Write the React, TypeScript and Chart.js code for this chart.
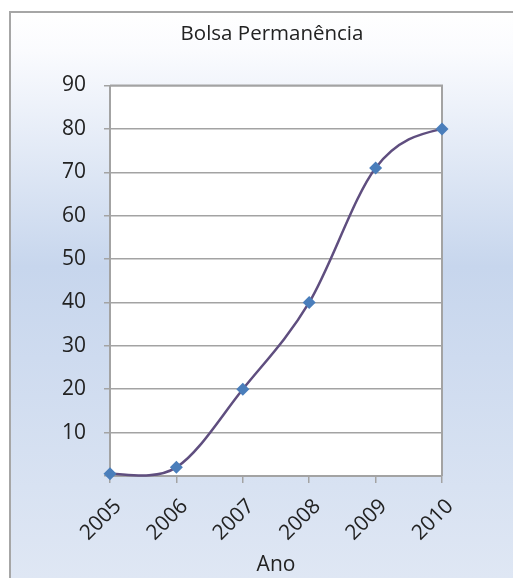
import React, { useEffect, useRef } from "react";
import { Chart, registerables } from "chart.js";

Chart.register(...registerables);

const years = ["2005", "2006", "2007", "2008", "2009", "2010"];
const bolsaValues = [0.5, 2, 20, 40, 71, 80];
const yMin = 0;
const yMax = 90;
const yStep = 10;

const FONT = "'Open Sans', 'Noto Sans', sans-serif";
const TEXT = "#222222";
const GRID = "#a3a3a3";
const SMOOTH_K = 1 / 6;

export default function App() {
  const ref = useRef<HTMLCanvasElement>(null);

  useEffect(() => {
    const canvas = ref.current;
    if (!canvas) return;

    const bgPlugin = {
      id: "bgPlugin",
      beforeDraw(chart: any) {
        const { ctx, chartArea } = chart;
        const W = chart.width;
        const H = chart.height;
        ctx.save();
        ctx.fillStyle = "#ffffff";
        ctx.fillRect(0, 0, W, H);
        const g = ctx.createLinearGradient(0, 12, 0, H);
        g.addColorStop(0, "#ffffff");
        g.addColorStop(0.07, "#fafbfe");
        g.addColorStop(0.45, "#c7d6ed");
        g.addColorStop(1, "#dfe7f4");
        ctx.fillStyle = g;
        ctx.fillRect(11, 13, W - 11, H - 13);
        ctx.strokeStyle = "#a6a6a6";
        ctx.lineWidth = 2;
        ctx.beginPath();
        ctx.moveTo(10, H);
        ctx.lineTo(10, 12);
        ctx.lineTo(W, 12);
        ctx.stroke();
        ctx.fillStyle = "#ffffff";
        ctx.fillRect(
          chartArea.left,
          chartArea.top,
          chartArea.right - chartArea.left,
          chartArea.bottom - chartArea.top
        );
        ctx.restore();
      },
      beforeDatasetsDraw(chart: any) {
        const { ctx, chartArea } = chart;
        ctx.save();
        ctx.strokeStyle = GRID;
        ctx.lineWidth = 2;
        ctx.beginPath();
        ctx.moveTo(chartArea.left, chartArea.top);
        ctx.lineTo(chartArea.right, chartArea.top);
        ctx.lineTo(chartArea.right, chartArea.bottom);
        ctx.stroke();
        ctx.restore();

        // Excel-like smoothing: Catmull-Rom tangents
        const meta = chart.getDatasetMeta(0);
        const line: any = meta.dataset;
        const pts: any[] = meta.data as any[];
        if (!line || !pts || pts.length < 3) return;
        line.updateControlPoints(chartArea, "x");
        const n = pts.length;
        const T = pts.map((p, i) => {
          const a = pts[Math.max(i - 1, 0)];
          const b = pts[Math.min(i + 1, n - 1)];
          return { x: (b.x - a.x) * SMOOTH_K, y: (b.y - a.y) * SMOOTH_K };
        });
        for (let i = 1; i < n - 1; i++) {
          const p = pts[i];
          p.cp1x = p.x - T[i].x;
          p.cp1y = p.y - T[i].y;
          p.cp2x = p.x + T[i].x;
          p.cp2y = p.y + T[i].y;
        }
        const p0 = pts[0];
        p0.cp2x = p0.x + T[0].x;
        p0.cp2y = p0.y + T[0].y;
        p0.cp1x = p0.x;
        p0.cp1y = p0.y;
        const pn = pts[n - 1];
        const cn = pts[n - 2];
        pn.cp1x = pn.x + (cn.cp2x - pn.x) / 2;
        pn.cp1y = pn.y + (cn.cp2y - pn.y) / 2;
        pn.cp2x = pn.x;
        pn.cp2y = pn.y;
        line._path = undefined;
      },
    };

    const chart = new Chart(canvas, {
      type: "line",
      data: {
        labels: years,
        datasets: [
          {
            label: "Bolsa Permanência",
            data: bolsaValues,
            borderColor: "#5f4e7f",
            borderWidth: 2.5,
            tension: 0.4,
            fill: false,
            pointStyle: "rectRot",
            pointRadius: 6.5,
            pointBackgroundColor: "#4a7ebb",
            pointBorderColor: "#4a7ebb",
            pointBorderWidth: 0,
            clip: false as any,
            yAxisID: "y",
          },
        ],
      },
      options: {
        animation: false,
        responsive: false,
        devicePixelRatio: 1,
        events: [],
        layout: { padding: { left: 31, right: 0, top: 0, bottom: 0 } },
        plugins: {
          legend: { display: false },
          tooltip: { enabled: false },
          title: {
            display: true,
            text: "Bolsa Permanência",
            color: TEXT,
            font: { family: FONT, size: 20.5, weight: "normal" as any },
            padding: { top: 21.5, bottom: 39.4 },
          },
        },
        scales: {
          x: {
            type: "category",
            offset: false,
            grid: {
              drawOnChartArea: false,
              drawTicks: true,
              tickLength: 7,
              color: GRID,
              lineWidth: 1.5,
            },
            border: { color: GRID, width: 2 },
            ticks: {
              maxRotation: 45,
              minRotation: 45,
              color: TEXT,
              font: { family: FONT, size: 21 },
              padding: 11,
              labelOffset: 8,
            },
            title: {
              display: true,
              text: "Ano",
              color: TEXT,
              font: { family: FONT, size: 21 },
              padding: { top: 0, bottom: 0 },
            },
            afterFit(scale: any) {
              scale.height = 102;
            },
          },
          y: {
            position: "left",
            min: yMin,
            max: yMax,
            grid: {
              color: GRID,
              lineWidth: 1.5,
              tickLength: 6,
            },
            border: { color: GRID, width: 2 },
            ticks: {
              stepSize: yStep,
              color: TEXT,
              font: { family: FONT, size: 21 },
              padding: 18,
              callback: (v: any) => (Number(v) === 0 ? "" : String(v)),
            },
            afterFit(scale: any) {
              scale.width = 79;
            },
          },
          yR: {
            type: "linear",
            position: "right",
            display: true,
            grid: { display: false, drawTicks: false },
            border: { display: false },
            ticks: { display: false },
            afterFit(scale: any) {
              scale.width = 71;
            },
          },
        },
      },
      plugins: [bgPlugin],
    });

    return () => chart.destroy();
  }, []);

  return (
    <div style={{ position: "fixed", left: 0, top: 0, width: 513, height: 578 }}>
      <canvas ref={ref} width={513} height={578} style={{ display: "block", width: 513, height: 578 }} />
    </div>
  );
}
